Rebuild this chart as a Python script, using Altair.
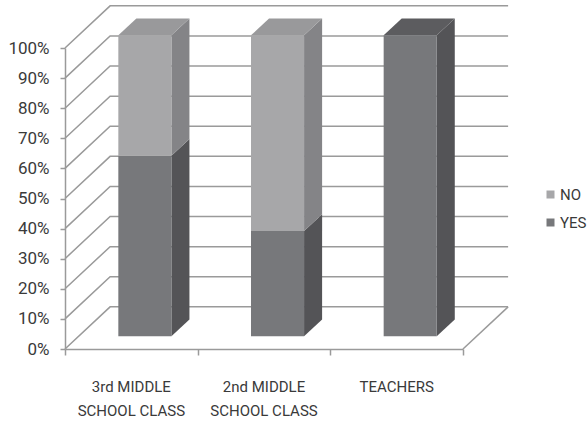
import altair as alt
import pandas as pd

# ---- data ----
categories = ["3rd MIDDLE\nSCHOOL CLASS", "2nd MIDDLE\nSCHOOL CLASS", "TEACHERS"]
series = ["NO", "YES"]
yes_values = [60, 35, 100]
no_values = [40, 65, 0]
y_ticks = [0, 10, 20, 30, 40, 50, 60, 70, 80, 90, 100]

# ---- pseudo-3D projection (in data units) ----
DX = 0.34      # shift along x for full depth (category units)
DY = 14        # shift along y for full depth (percent units)
D0, D1 = 0.3, 0.7   # depth of bar front / back faces
HALF = 0.2     # half bar width (category units)
n = len(categories)
x_lo, x_hi = -0.5, n - 0.5

front_rows, side_rows, top_rows = [], [], []
for i, (yv, nv) in enumerate(zip(yes_values, no_values)):
    segs = [("YES", 0, yv), ("NO", yv, yv + nv)]
    segs = [s for s in segs if s[2] > s[1]]
    for s, lo, hi in segs:
        front_rows.append(dict(series=s, x=i - HALF + D0 * DX, x2=i + HALF + D0 * DX,
                               y=lo + D0 * DY, y2=hi + D0 * DY))
        for d in (D0, D1):
            side_rows.append(dict(face=f"{i}-{s}", series=s, x=i + HALF + d * DX,
                                  y=lo + d * DY, y2=hi + d * DY))
    s, lo, hi = segs[-1]
    for d in (D0, D1):
        top_rows.append(dict(face=str(i), series=s, y=hi + d * DY,
                             x=i - HALF + d * DX, x2=i + HALF + d * DX))

frame_rows = []
for v in y_ticks:
    pts = [(x_lo, v), (x_lo + DX, v + DY), (x_hi + DX, v + DY)]
    for k, (px, py) in enumerate(pts):
        frame_rows.append(dict(line=f"g{v}", k=k, x=px, y=py))
for k, (px, py) in enumerate([(x_hi, 0), (x_hi + DX, DY)]):
    frame_rows.append(dict(line="floor", k=k, x=px, y=py))

label_rows = [dict(i=i, label=c) for i, c in enumerate(categories)]

front = pd.DataFrame(front_rows)
side = pd.DataFrame(side_rows)
top = pd.DataFrame(top_rows)
frame = pd.DataFrame(frame_rows)
labels = pd.DataFrame(label_rows)

FONT = "Roboto"
LINE = "#9a9a9a"
TXT = "#3a3a3a"

xs = alt.Scale(domain=[x_lo, x_hi], nice=False, zero=False)
ys = alt.Scale(domain=[0, 100], nice=False, zero=False)

x_axis = alt.Axis(values=[x + 0.5 for x in range(-1, n)], labels=False, grid=False,
                  title=None, domainColor=LINE, domainWidth=1.5, tickColor=LINE,
                  tickWidth=1.5, tickSize=6)
y_axis = alt.Axis(values=y_ticks, labelExpr="datum.value + '%'", grid=False, title=None,
                  domainColor=LINE, domainWidth=1.5, tickColor=LINE, tickWidth=1.5,
                  tickSize=5, labelFont=FONT, labelFontSize=17, labelColor=TXT,
                  labelPadding=11, labelOverlap=False, labelBound=False)

frame_layer = alt.Chart(frame).mark_line(color=LINE, strokeWidth=1.5).encode(
    x=alt.X("x:Q", scale=xs, axis=x_axis),
    y=alt.Y("y:Q", scale=ys, axis=y_axis),
    detail="line:N",
    order="k:Q",
)

side_layer = alt.Chart(side).mark_area(opacity=1).encode(
    x=alt.X("x:Q", scale=xs, axis=x_axis),
    y=alt.Y("y:Q", scale=ys, stack=None, axis=y_axis),
    y2="y2:Q",
    color=alt.Color("series:N", scale=alt.Scale(domain=series, range=["#848487", "#545457"]), legend=None),
    detail="face:N",
)

top_layer = alt.Chart(top).mark_area(opacity=1, orient="horizontal").encode(
    y=alt.Y("y:Q", scale=ys, axis=y_axis),
    x=alt.X("x:Q", scale=xs, stack=None, axis=x_axis),
    x2="x2:Q",
    color=alt.Color("series:N", scale=alt.Scale(domain=series, range=["#99999b", "#5c5c5f"]), legend=None),
    detail="face:N",
)

front_layer = alt.Chart(front).mark_rect().encode(
    x=alt.X("x:Q", scale=xs, axis=x_axis),
    x2="x2:Q",
    y=alt.Y("y:Q", scale=ys, axis=y_axis),
    y2="y2:Q",
    color=alt.Color("series:N",
                    scale=alt.Scale(domain=series, range=["#a7a7a9", "#77787b"]),
                    legend=alt.Legend(title=None, orient="none", legendX=478, legendY=139,
                                      symbolType="square", symbolSize=64, symbolStrokeWidth=0,
                                      labelFont=FONT, labelFontSize=15, labelColor=TXT,
                                      labelOffset=2, rowPadding=12, padding=0)),
)

label_layer = alt.Chart(labels).mark_text(
    font=FONT, fontSize=15, color=TXT, baseline="top", dy=31, lineBreak="\n", lineHeight=24
).encode(
    x=alt.X("i:Q", scale=xs, axis=x_axis),
    y=alt.YDatum(0, axis=y_axis),
    text="label:N",
)

chart = alt.layer(frame_layer, side_layer, top_layer, front_layer, label_layer).resolve_scale(
    color="independent"
).properties(
    width=398, height=301, autosize="none",
    padding={"left": 65, "top": 48, "right": 124, "bottom": 73},
    background="white",
).configure_view(stroke=None)

chart.save("out.html", embed_options={"renderer": "svg", "actions": False})
